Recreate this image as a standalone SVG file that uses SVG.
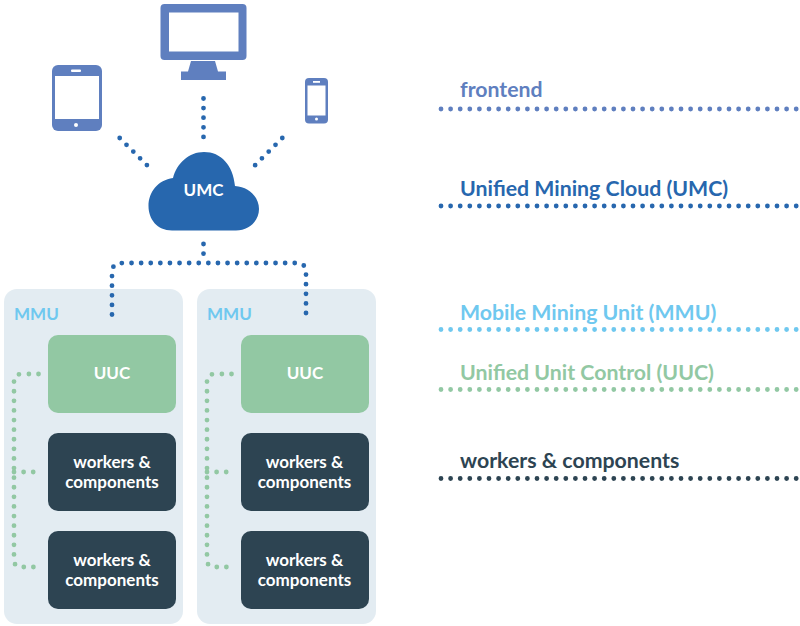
<svg xmlns="http://www.w3.org/2000/svg" width="800" height="626" viewBox="0 0 800 626">
<style>
text{font-family:Lato,"Open Sans","Liberation Sans",sans-serif;font-weight:700}
.d{fill:none;stroke-width:4.800;stroke-linecap:round;stroke-dasharray:0 9.6}
.dev{fill:#5f7fbf}
.panel{fill:#e3ecf2}
.uuc{fill:#92c8a3}
.wk{fill:#2d4452}
.in{fill:#fff;font-size:17px;text-anchor:middle}
.mmu{fill:#6fc8ef;font-size:17px}
.leg{font-size:21.300px}
.cb{stroke:#2767ae}
.cg{stroke:#92c8a3}
</style>
<g id="panel-mmu-1"><rect class="panel" x="4" y="289" width="179" height="335" rx="13"/><text class="mmu" x="14" y="320">MMU</text></g>
<g id="panel-mmu-2"><rect class="panel" x="197" y="289" width="179" height="335" rx="13"/><text class="mmu" x="207" y="320">MMU</text></g>
<g id="connectors">
<path class="d cb" d="M119.700 138L147.800 166"/>
<path class="d cb" d="M203.500 98.500V140"/>
<path class="d cb" d="M282.300 138L254.300 166"/>
<path class="d cb" d="M203.500 244V263"/>
<path class="d cb" d="M112 314.500V272Q112 263 123 263H296Q306 263 306 272V314.500"/>
<g id="conn-uuc-1"><path class="d cg" d="M38.500 374H22Q14 374 14 382V560Q14 567 22 567H38.500"/><path class="d cg" d="M14 472H34"/></g>
<g id="conn-uuc-2"><path class="d cg" d="M231.500 374H215Q207 374 207 382V560Q207 567 215 567H231.500"/><path class="d cg" d="M207 472H227"/></g>
</g>
<g id="tablet"><rect class="dev" x="52" y="65" width="50" height="66" rx="6"/><rect x="55" y="76" width="44" height="43" fill="#fff"/><rect x="71" y="69.500" width="10" height="2.500" rx="1" fill="#fff"/><circle cx="76" cy="125" r="2" fill="#fff"/></g>
<g id="monitor"><rect class="dev" x="160.500" y="4" width="86" height="56" rx="4"/><rect x="169" y="12.500" width="69.500" height="39" fill="#fff"/><path class="dev" d="M191 61H215L218 71.500H226V80H181V71.500H188Z"/></g>
<g id="phone"><rect class="dev" x="305" y="78" width="23" height="45.500" rx="4"/><rect x="307.500" y="85.500" width="18" height="30" fill="#fff"/><rect x="313" y="81" width="7" height="1.800" fill="#fff"/><circle cx="316.500" cy="119" r="1.500" fill="#fff"/></g>
<g id="umc"><path fill="#2767ae" d="M172 230.500C157 230.500 148.500 219 148.500 206C148.500 192 158 180 173 178C177 163 189 152 204 152C221 152 233 165 235 186C249 187 259 197 259 209C259 221 249 230.500 236 230.500Z"/><text class="in" x="203.500" y="196">UMC</text></g>
<g id="uuc-1"><rect class="uuc" x="48" y="335" width="128" height="78" rx="10"/><text class="in" x="112" y="379">UUC</text></g>
<g id="workers-1a"><rect class="wk" x="48" y="433" width="128" height="78" rx="10"/><text class="in"><tspan x="112" y="468">workers &amp;</tspan><tspan x="112" y="488">components</tspan></text></g>
<g id="workers-1b"><rect class="wk" x="48" y="531" width="128" height="78" rx="10"/><text class="in"><tspan x="112" y="566">workers &amp;</tspan><tspan x="112" y="586">components</tspan></text></g>
<g id="uuc-2"><rect class="uuc" x="241" y="335" width="128" height="78" rx="10"/><text class="in" x="305" y="379">UUC</text></g>
<g id="workers-2a"><rect class="wk" x="241" y="433" width="128" height="78" rx="10"/><text class="in"><tspan x="304.500" y="468">workers &amp;</tspan><tspan x="304.500" y="488">components</tspan></text></g>
<g id="workers-2b"><rect class="wk" x="241" y="531" width="128" height="78" rx="10"/><text class="in"><tspan x="304.500" y="566">workers &amp;</tspan><tspan x="304.500" y="586">components</tspan></text></g>
<g id="legend">
<text class="leg" x="460" y="97" fill="#5f7fbf">frontend</text>
<path class="d" stroke="#5f7fbf" d="M441 109H800"/>
<text class="leg" x="460" y="196" fill="#2767ae">Unified Mining Cloud (UMC)</text>
<path class="d" stroke="#2767ae" d="M441 206H800"/>
<text class="leg" x="460" y="320" fill="#6fc8ef">Mobile Mining Unit (MMU)</text>
<path class="d" stroke="#6fc8ef" d="M441 329.500H800"/>
<text class="leg" x="460" y="380" fill="#92c8a3">Unified Unit Control (UUC)</text>
<path class="d" stroke="#92c8a3" d="M441 389.500H800"/>
<text class="leg" x="460" y="468" fill="#2d4452">workers &amp; components</text>
<path class="d" stroke="#2d4452" d="M441 478.500H800"/>
</g>
</svg>
